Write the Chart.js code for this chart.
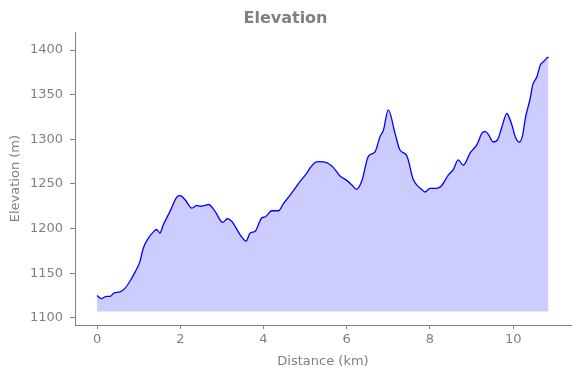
<!DOCTYPE html>
<html>
<head>
<meta charset="utf-8">
<script src="https://cdn.jsdelivr.net/npm/chart.js@4/dist/chart.umd.min.js"></script>
<style>
  html, body { margin: 0; padding: 0; background: #fff; }
  #wrap { width: 580px; height: 378px; }
</style>
</head>
<body>
<div id="wrap"><canvas id="grafico-elevacion" width="580" height="378"></canvas></div>
<script>
// Perfil (km, m)
const distancias = [
  0.00, 0.10, 0.23, 0.31, 0.41, 0.55, 0.67, 0.79, 0.91, 1.03,
  1.11, 1.23, 1.35, 1.43, 1.51, 1.59, 1.75, 1.93, 2.00, 2.12,
  2.28, 2.40, 2.48, 2.60, 2.68, 2.84, 3.02, 3.13, 3.24, 3.44,
  3.58, 3.68, 3.80, 3.96, 4.04, 4.20, 4.36, 4.48, 4.68, 4.88,
  5.04, 5.12, 5.24, 5.32, 5.52, 5.64, 5.72, 5.84, 6.00, 6.12,
  6.23, 6.36, 6.52, 6.68, 6.80, 6.88, 7.00, 7.16, 7.28, 7.44,
  7.60, 7.72, 7.80, 7.88, 8.00, 8.16, 8.28, 8.44, 8.56, 8.68,
  8.80, 8.97, 9.13, 9.25, 9.33, 9.41, 9.52, 9.63, 9.73, 9.85,
  9.89, 9.97, 10.05, 10.15, 10.23, 10.29, 10.41, 10.47, 10.57, 10.65,
  10.73, 10.81, 10.85
];
const elevaciones = [
  1125, 1121.5, 1124, 1124, 1128, 1129, 1133, 1141, 1151, 1163,
  1178, 1189, 1196, 1199, 1195, 1204, 1219, 1236, 1237, 1232,
  1223, 1226, 1225, 1226, 1227, 1219, 1207, 1211, 1208, 1193,
  1186, 1195, 1197, 1212, 1213, 1220, 1220, 1228, 1240, 1253,
  1262, 1268, 1274, 1275, 1274, 1270, 1266, 1259, 1254, 1249,
  1244, 1253, 1281, 1286, 1303, 1310, 1333, 1307, 1288, 1282,
  1255, 1247, 1244, 1241, 1245, 1245, 1248, 1260, 1266, 1277,
  1271, 1285, 1294, 1307, 1309, 1305, 1297, 1300, 1314, 1329,
  1326, 1316, 1303, 1297, 1305, 1323, 1346, 1361, 1370, 1383,
  1387, 1391, 1392
];
const ticksX = [0, 2, 4, 6, 8, 10];
const ticksY = [1100, 1150, 1200, 1250, 1300, 1350, 1400];
const baseRelleno = 1107;

const gris = '#808080';
const fuente = 'DejaVu Sans';

const ctx = document.getElementById('grafico-elevacion').getContext('2d');

new Chart(ctx, {
  type: 'line',
  data: {
    datasets: [{
      label: 'Elevation',
      data: distancias.map((d, i) => ({ x: d, y: elevaciones[i] })),
      borderColor: '#0000ff',
      borderWidth: 1.3,
      backgroundColor: 'rgba(0, 0, 255, 0.2)',
      fill: { value: baseRelleno },
      pointRadius: 0,
      cubicInterpolationMode: 'monotone'
    }]
  },
  options: {
    responsive: false,
    animation: false,
    devicePixelRatio: 1,
    layout: { padding: { left: 0, right: 9, top: 0, bottom: 0 } },
    plugins: {
      legend: { display: false },
      tooltip: { enabled: false },
      title: {
        display: true,
        text: 'Elevation',
        color: gris,
        font: { family: fuente, size: 16, weight: 'bold' },
        padding: { top: 9, bottom: 4 }
      }
    },
    scales: {
      x: {
        type: 'linear',
        min: -0.53,
        max: 11.39,
        afterBuildTicks: s => { s.ticks = ticksX.map(v => ({ value: v })); },
        afterFit: s => { s.height = 53; },
        ticks: {
          color: gris,
          font: { family: fuente, size: 13 },
          padding: 3,
          maxRotation: 0,
          callback: v => String(v)
        },
        grid: { drawOnChartArea: false, drawTicks: true, tickLength: 4, color: gris },
        border: { color: gris, width: 1 },
        title: {
          display: true,
          text: 'Distance (km)',
          color: gris,
          font: { family: fuente, size: 13 },
          padding: { top: 0, bottom: 9 }
        }
      },
      y: {
        type: 'linear',
        min: 1092,
        max: 1420,
        afterBuildTicks: s => { s.ticks = ticksY.map(v => ({ value: v })); },
        afterFit: s => { s.width = 75; },
        ticks: {
          color: gris,
          font: { family: fuente, size: 13 },
          padding: 7,
          callback: v => String(v)
        },
        grid: { drawOnChartArea: false, drawTicks: true, tickLength: 5, color: gris },
        border: { color: gris, width: 1 },
        title: {
          display: true,
          text: 'Elevation (m)',
          color: gris,
          font: { family: fuente, size: 13 },
          padding: { top: 8, bottom: 0 }
        }
      }
    }
  }
});
</script>
</body>
</html>
